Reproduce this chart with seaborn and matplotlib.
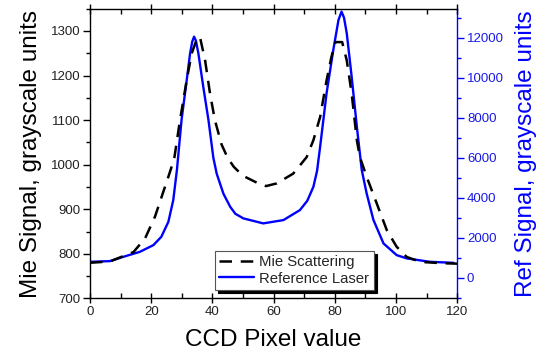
import matplotlib
matplotlib.use("Agg")
import matplotlib.pyplot as plt
import seaborn as sns
import pandas as pd
from matplotlib.ticker import MultipleLocator

# ---- data ----
mie_x = [0, 6.5, 14.2, 18, 21.2, 23.4, 25.6, 27.5, 29.4, 31.6, 33.2, 34.8, 35.9, 37.6,
         39.2, 40.8, 43.0, 45.0, 47.0, 50.0, 55, 57.5, 61, 66.4, 70.8, 73, 75.2, 77.3, 78.9,
         80.2, 82.4, 83.9, 85.5, 87.2, 88.2, 90.4, 93.7, 97, 100.2, 103.5, 108, 115, 120]
mie_y = [780, 783, 804, 835, 883, 928, 973, 1013, 1100, 1190, 1249, 1280, 1287, 1234,
         1160, 1100, 1045, 1015, 995, 975, 958, 952, 958, 980, 1017, 1055, 1107, 1189, 1242,
         1275, 1275, 1234, 1160, 1055, 1017, 973, 913, 853, 816, 793, 782, 779, 778]

ref_x = [0, 6.5, 10.9, 16.3, 20.7, 23.3, 25.6, 27.2, 28.4, 29.9, 31.6, 32.7, 33.4, 34.0,
         34.6, 35.4, 37.0, 38.7, 40.3, 41.4, 43.6, 45.8, 47.5, 50.1, 56.6, 63.2, 68.6,
         71.0, 73.0, 74.2, 75.2, 77.3, 79.5, 81.2, 82.2, 83.0, 83.9, 85.5, 87.2, 88.8, 90.4,
         92.6, 95.9, 100.2, 103.5, 111.1, 118.8]
ref_y = [800, 835, 1050, 1300, 1635, 2050, 2800, 3885, 5400, 7885, 9885, 11220, 11800, 12050,
         11850, 11220, 9550, 7885, 6000, 5200, 4200, 3550, 3200, 2970, 2720, 2885, 3385,
         3850, 4550, 5350, 6550, 9220, 11385, 12885, 13300, 13000, 12220, 10050, 7550, 5385,
         4220, 2900, 1720, 1135, 970, 800, 750]

x_label = "CCD Pixel value"
left_label = "Mie Signal, grayscale units"
right_label = "Ref Signal, grayscale units"
mie_name = "Mie Scattering"
ref_name = "Reference Laser"

mie_df = pd.DataFrame({"x": mie_x, "y": mie_y})
ref_df = pd.DataFrame({"x": ref_x, "y": ref_y})

sns.set_theme(style="white")
plt.rcParams["font.family"] = ["Liberation Sans", "DejaVu Sans"]

BLUE = "#0000ff"
TBLUE = "#1a1ae6"

fig = plt.figure(figsize=(5.36, 3.6), dpi=100)
ax = fig.add_axes([0.168, 0.171, 0.685, 0.805])
ax2 = ax.twinx()

sns.lineplot(data=ref_df, x="x", y="y", ax=ax2, color=BLUE, lw=1.7,
             label=ref_name, legend=False)
sns.lineplot(data=mie_df, x="x", y="y", ax=ax, color="black", lw=1.8,
             label=mie_name, legend=False, zorder=1)
ax.lines[0].set_dashes([5, 3.5])
ax.set_zorder(ax2.get_zorder() + 1)
ax.patch.set_visible(False)

ax.set_xlim(0, 120)
ax.set_ylim(700, 1350)
ax2.set_ylim(-1030, 13450)

ax.xaxis.set_major_locator(MultipleLocator(20))
ax.xaxis.set_minor_locator(MultipleLocator(10))
ax.yaxis.set_major_locator(MultipleLocator(100))
ax.yaxis.set_minor_locator(MultipleLocator(50))
ax2.yaxis.set_major_locator(MultipleLocator(2000))
ax2.yaxis.set_minor_locator(MultipleLocator(1000))

for s in ["left", "bottom", "top"]:
    ax.spines[s].set_color("black")
    ax.spines[s].set_linewidth(1.0)
ax.spines["right"].set_visible(False)
for s in ["left", "bottom", "top"]:
    ax2.spines[s].set_visible(False)
ax2.spines["right"].set_color(BLUE)
ax2.spines["right"].set_linewidth(1.0)

ax.xaxis.set_ticks_position("both")
ax.tick_params(axis="y", which="major", direction="out", length=5, width=1,
               color="black", labelsize=9.5, labelcolor="#222222", pad=2)
ax.tick_params(axis="y", which="minor", direction="out", length=3, width=1, color="black", left=True)
ax.tick_params(axis="x", which="major", direction="inout", length=7, width=1,
               color="black", labelsize=9.5, labelcolor="#222222", pad=2)
ax.tick_params(axis="x", which="minor", direction="in", length=3.5, width=1, color="black",
               bottom=True, top=True)
ax.tick_params(axis="x", which="both", labeltop=False)
ax2.tick_params(axis="y", which="major", direction="out", length=5, width=1,
                color=BLUE, labelsize=9.5, labelcolor=TBLUE, pad=2)
ax2.tick_params(axis="y", which="minor", direction="out", length=3, width=1, color=BLUE, right=True)

ax.set_xlabel(x_label, fontsize=17.5, color="black", labelpad=8)
ax.set_ylabel(left_label, fontsize=17.5, color="black", labelpad=6)
ax2.set_ylabel(right_label, fontsize=17.5, color=BLUE, labelpad=8)

h1, l1 = ax.get_legend_handles_labels()
h2, l2 = ax2.get_legend_handles_labels()
leg = ax.legend(h1 + h2, l1 + l2, loc="lower left", bbox_to_anchor=(0.34, 0.029),
                fontsize=10.7, frameon=True, fancybox=False, borderpad=0.3,
                handlelength=2.3, handletextpad=0.4, labelspacing=0.15,
                shadow={"color": "black", "alpha": 1.0},
                borderaxespad=0)
frame = leg.get_frame()
frame.set_edgecolor("#555555")
frame.set_linewidth(0.8)
frame.set_alpha(1)

fig.savefig("out.png", dpi=100)
